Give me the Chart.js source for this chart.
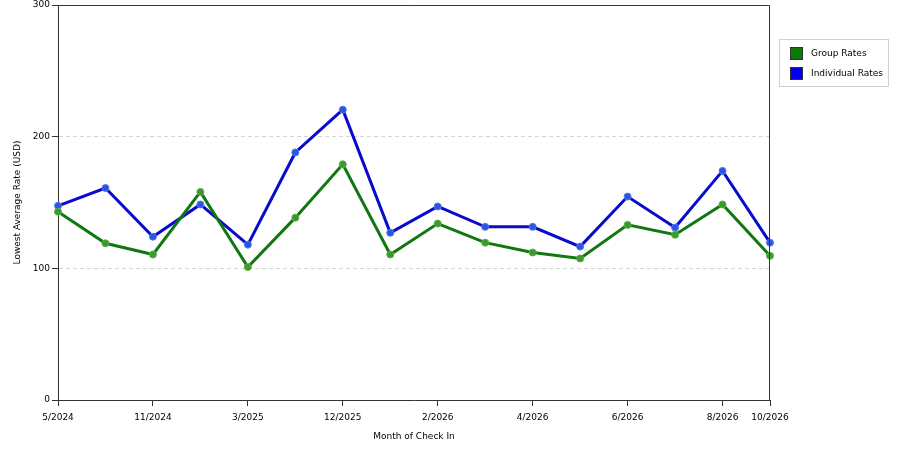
<!DOCTYPE html>
<html>
<head>
<meta charset="utf-8">
<script src="https://cdn.jsdelivr.net/npm/chart.js@4.4.1/dist/chart.umd.min.js"></script>
<style>
    html, body { margin: 0; padding: 0; background: #fff; }
    #wrap { position: relative; width: 900px; height: 450px; }
    #legend {
        position: absolute; left: 779px; top: 39px; width: 108px; height: 46px;
        border: 1px solid #d0d0d0; font: 9px "DejaVu Sans", sans-serif; color: #000;
    }
    .item { position: absolute; left: 10px; height: 12px; line-height: 12px; }
    .item span.sw { position: absolute; left: 0; top: 0; width: 11px; height: 11px; border: 1px solid #333; }
    .item span.tx { position: absolute; left: 21px; top: 0; white-space: nowrap; }
</style>
</head>
<body>
<div id="wrap">
    <canvas id="chartTarifas" width="900" height="450"></canvas>
    <div id="legend">
        <div class="item" style="top:7px"><span class="sw" style="background:#0b7a0b"></span><span class="tx">Group Rates</span></div>
        <div class="item" style="top:27px"><span class="sw" style="background:#0000ee"></span><span class="tx">Individual Rates</span></div>
    </div>
</div>
<script>
// meses (solo algunos llevan etiqueta)
const months = ['5/2024', '', '11/2024', '', '3/2025', '', '12/2025', '', '2/2026', '', '4/2026', '', '6/2026', '', '8/2026', '10/2026'];
const groupRates      = [143, 119, 110.5, 158, 101, 138.5, 179, 110.5, 134, 119.5, 112, 107.5, 133, 125.5, 148.5, 109.5];
const individualRates = [147.5, 161, 124, 148.5, 118, 188, 220.5, 127, 147, 131.5, 131.5, 116.5, 154.5, 131, 174, 119.5];
const yTicks = [0, 100, 200, 300];

const FUENTE = { family: '"DejaVu Sans", sans-serif', size: 9 };

// marco superior y derecho del área de gráfico
const marcoPlugin = {
    id: 'marco',
    afterDraw(chart) {
        const { ctx, chartArea: a } = chart;
        ctx.save();
        ctx.strokeStyle = '#333';
        ctx.lineWidth = 1;
        ctx.beginPath();
        ctx.moveTo(a.left, a.top + 0.5);
        ctx.lineTo(a.right - 0.5, a.top + 0.5);
        ctx.lineTo(a.right - 0.5, a.bottom);
        ctx.stroke();
        ctx.restore();
    }
};

const ctx = document.getElementById('chartTarifas').getContext('2d');
new Chart(ctx, {
    type: 'line',
    data: {
        labels: months,
        datasets: [
            {
                label: 'Group Rates',
                data: groupRates,
                borderColor: '#117711',
                backgroundColor: '#2a8a2a',
                pointBackgroundColor: '#3a9a2a',
                pointBorderColor: '#5aaa4a',
                borderWidth: 3,
                pointRadius: 3.5,
                pointBorderWidth: 1,
                tension: 0
            },
            {
                label: 'Individual Rates',
                data: individualRates,
                borderColor: '#0a0acc',
                backgroundColor: '#2255dd',
                pointBackgroundColor: '#2a55dd',
                pointBorderColor: '#5577ee',
                borderWidth: 3,
                pointRadius: 3.5,
                pointBorderWidth: 1,
                tension: 0
            }
        ]
    },
    options: {
        responsive: false,
        animation: false,
        layout: { padding: { top: 4, right: 130, left: 12, bottom: 8 } },
        plugins: {
            legend: { display: false },
            tooltip: { enabled: false }
        },
        scales: {
            x: {
                offset: false,
                grid: {
                    drawOnChartArea: false,
                    tickLength: 6,
                    tickColor: c => (c.tick && c.tick.label) ? '#333' : 'rgba(0,0,0,0)'
                },
                border: { color: '#333' },
                ticks: {
                    autoSkip: false,
                    maxRotation: 0,
                    color: '#000',
                    font: FUENTE,
                    padding: 6
                },
                title: {
                    display: true,
                    text: 'Month of Check In',
                    color: '#000',
                    font: FUENTE,
                    padding: { top: 4, bottom: 0 }
                },
                afterFit(scale) {
                    scale.height = 42;
                    scale.paddingLeft = 0;
                    scale.paddingRight = 0;
                }
            },
            y: {
                min: 0,
                max: 300,
                afterBuildTicks(scale) { scale.ticks = yTicks.map(v => ({ value: v })); },
                grid: {
                    color: c => (c.tick && (c.tick.value === 100 || c.tick.value === 200)) ? '#d4d4d4' : 'rgba(0,0,0,0)',
                    tickColor: '#333',
                    tickLength: 6,
                    tickBorderDash: []
                },
                border: { color: '#333', dash: [4, 3] },
                ticks: {
                    color: '#000',
                    font: FUENTE,
                    padding: 2
                },
                title: {
                    display: true,
                    text: 'Lowest Average Rate (USD)',
                    color: '#000',
                    font: FUENTE,
                    padding: { top: 0, bottom: 4 }
                },
                afterFit(scale) {
                    scale.width = 46;
                    scale.paddingTop = 0;
                    scale.paddingBottom = 0;
                }
            }
        }
    },
    plugins: [marcoPlugin]
});
</script>
</body>
</html>
